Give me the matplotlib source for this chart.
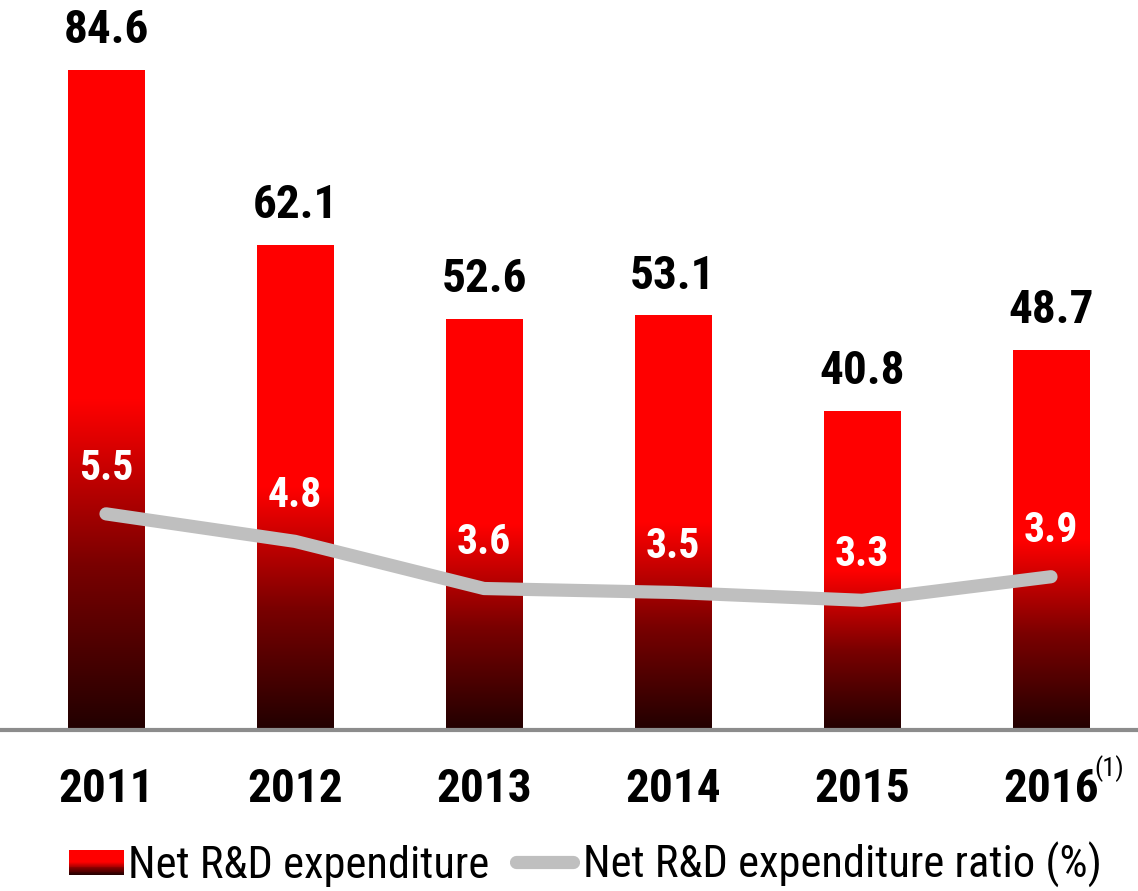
import matplotlib
matplotlib.use("Agg")
import matplotlib.pyplot as plt
import numpy as np
from matplotlib import font_manager as fm
from matplotlib.colors import LinearSegmentedColormap
from matplotlib.legend_handler import HandlerBase
from matplotlib.patches import Rectangle, Patch
from matplotlib.lines import Line2D

years = ["2011", "2012", "2013", "2014", "2015", "2016"]
expenditure = [84.6, 62.1, 52.6, 53.1, 40.8, 48.7]
ratio = [5.5, 4.8, 3.6, 3.5, 3.3, 3.9]
footnote = "(1)"
legend_labels = ["Net R&D expenditure", "Net R&D expenditure ratio (%)"]

available = set(f.name for f in fm.fontManager.ttflist)
prefs = ['Liberation Sans Narrow', 'Arial Narrow', 'Roboto Condensed', 'PT Sans Narrow',
         'Archivo Narrow', 'Barlow Semi Condensed']
chosen = [p for p in prefs if p in available][:1]
plt.rcParams['font.family'] = chosen + ['Liberation Sans', 'DejaVu Sans']

W, H, DPI = 1138, 891, 100
fig = plt.figure(figsize=(W / DPI, H / DPI), dpi=DPI)
base_px = 730
ax = fig.add_axes([0, (H - base_px) / H, 1, base_px / H])

px_per_cat = 189.0
x0 = 106.0
x = np.arange(len(years))
xlim = (-x0 / px_per_cat, (W - x0) / px_per_cat)
ylim = (0, base_px / 7.8)

cmap = LinearSegmentedColormap.from_list(
    "rg", [(0.0, "#220000"), (0.25, "#7a0000"), (0.5, "#ff0000"), (1.0, "#ff0000")])

bars = ax.bar(x, expenditure, width=0.405, color="none", edgecolor="none", zorder=2)
grad = np.linspace(0, 1, 256).reshape(-1, 1)
for b in bars:
    bx, by = b.get_x(), b.get_y()
    bw, bh = b.get_width(), b.get_height()
    ax.imshow(grad, cmap=cmap, origin="lower", aspect="auto",
              extent=(bx, bx + bw, by, by + bh), zorder=2, interpolation="bilinear")
ax.set_xlim(*xlim)
ax.set_ylim(*ylim)

for xi, v in zip(x, expenditure):
    ax.annotate(f"{v:.1f}", (xi, v), xytext=(0, 29), textcoords="offset points",
                ha="center", va="center", fontsize=34, fontweight="bold", color="black")

for s in ["top", "right", "left"]:
    ax.spines[s].set_visible(False)
ax.spines["bottom"].set_color("#8c8c8c")
ax.spines["bottom"].set_linewidth(3)
ax.set_yticks([])
ax.set_xticks(x)
ax.set_xticklabels(years, fontsize=34, fontweight="bold")
ax.tick_params(axis="x", length=0, pad=27)

ax2 = ax.twinx()
ax2.set_ylim(0, base_px / 39.3)
ax2.plot(x, ratio, color="#bfbfbf", lw=9.5, solid_capstyle="round",
         solid_joinstyle="round", zorder=3)
for xi, v in zip(x, ratio):
    ax2.annotate(f"{v:.1f}", (xi, v), xytext=(0, 33), textcoords="offset points",
                 ha="center", va="center", fontsize=30, fontweight="bold", color="white")
ax2.set_yticks([])
for s in ax2.spines.values():
    s.set_visible(False)

# footnote marker on the last year label
ax.annotate(footnote, (x[-1], 0), xytext=(31, -28), textcoords="offset points",
            ha="left", va="center", fontsize=19, color="black",
            annotation_clip=False)

SQ_W, SQ_H = 40.0, 18.0  # points
LW_LEG = 9.5


class GradHandler(HandlerBase):
    def create_artists(self, legend, orig_handle, xdescent, ydescent, width, height,
                       fontsize, trans):
        n = 30
        arts = []
        x_left = -xdescent + width - SQ_W
        y_bot = -ydescent + height / 2 - SQ_H / 2
        for i in range(n):
            c = cmap((i + 0.5) / n)
            r = Rectangle((x_left, y_bot + SQ_H * i / n), SQ_W, SQ_H / n + 0.2,
                          facecolor=c, edgecolor="none", transform=trans)
            arts.append(r)
        return arts


class RoundLineHandler(HandlerBase):
    def create_artists(self, legend, orig_handle, xdescent, ydescent, width, height,
                       fontsize, trans):
        half = LW_LEG / 2
        y = -ydescent + height / 2
        ln = Line2D([-xdescent + half, -xdescent + width - half], [y, y],
                    color="#bfbfbf", lw=LW_LEG, solid_capstyle="round", transform=trans)
        return [ln]


h1 = Patch(facecolor="red")
h2 = Line2D([0], [0], color="#bfbfbf", lw=LW_LEG, solid_capstyle="round")
fig.legend([h1, h2], legend_labels, loc="center", bbox_to_anchor=(0.508, 0.029),
           ncol=2, frameon=False, fontsize=32, handlelength=1.58, handleheight=0.7,
           handletextpad=0.08, columnspacing=0.45, borderaxespad=0,
           handler_map={Patch: GradHandler(), Line2D: RoundLineHandler()})

fig.savefig("out.png", dpi=DPI)
